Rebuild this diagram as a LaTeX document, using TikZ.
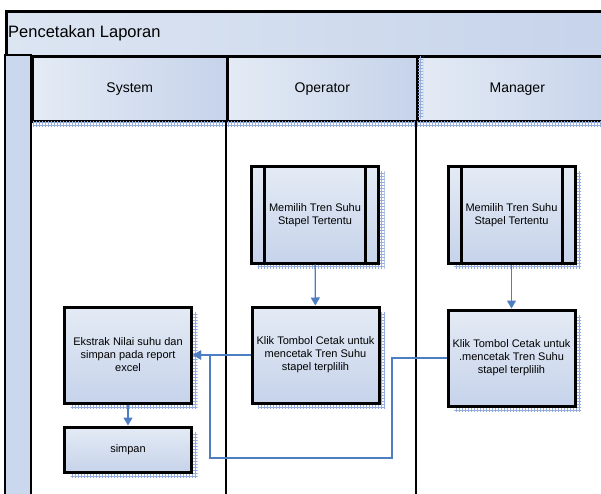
\documentclass[tikz,border=0pt]{standalone}
\usepackage{fontspec}
\setmainfont{Liberation Sans}
\usetikzlibrary{arrows.meta,patterns}

\definecolor{boxlight}{HTML}{E4EBF5}
\definecolor{boxdark}{HTML}{C6D3EA}
\definecolor{bandlight}{HTML}{DCE5F2}
\definecolor{banddark}{HTML}{C6D3EA}
\definecolor{stripblue}{HTML}{CAD7EC}
\definecolor{hatch}{HTML}{94ADDC}
\definecolor{flowblue}{HTML}{4E7EC2}

\tikzset{
  band/.style={draw, line width=2.6pt, left color=bandlight, right color=banddark},
  lanehead/.style={band, left color=boxlight, right color=boxdark},
  task/.style={draw, line width=3pt, minimum width=127pt, minimum height=96pt,
    align=center, font=\fontsize{11}{13}\selectfont,
    top color=boxlight, bottom color=boxdark,
    preaction={pattern=grid, pattern color=hatch, transform canvas={shift={(6pt,-5pt)}}}},
  subtask/.style={task, path picture={
    \draw[line width=3pt] ([xshift=13pt]path picture bounding box.north west) -- ([xshift=13pt]path picture bounding box.south west);
    \draw[line width=3pt] ([xshift=-13pt]path picture bounding box.north east) -- ([xshift=-13pt]path picture bounding box.south east);}},
  headtext/.style={font=\fontsize{14}{16}\selectfont, inner sep=0pt},
  flow/.style={draw=flowblue, line width=1.4pt, -{Triangle[width=9pt,length=8pt]}},
}

\begin{document}
\begin{tikzpicture}[x=1pt,y=-1pt]
\clip (0,0) rectangle (601,494);
\fill[white] (0,0) rectangle (601,494);

% pool title and left strip
\node[band, minimum width=610pt, minimum height=45pt, anchor=north west] (pool) at (5,10) {};
\node[font=\fontsize{16.5}{18}\selectfont, inner sep=0pt, anchor=west] (ttl) at (8,33) {Pencetakan Laporan};
\draw[line width=2.6pt, fill=stripblue] (5,55) rectangle (31,510);

% lane headers
\node[lanehead, minimum width=195pt, minimum height=65pt, anchor=north west] (hsys) at (31,55) {};
\node[lanehead, minimum width=190pt, minimum height=65pt, anchor=north west] (hop) at (226,55) {};
\node[lanehead, minimum width=200pt, minimum height=65pt, anchor=north west] (hmgr) at (416,55) {};
\fill[pattern=grid, pattern color=hatch] (33,122) rectangle (601,127);
\fill[pattern=grid, pattern color=hatch] (418,57) rectangle (423,119);
\node[headtext] (tsys) at (hsys.center) {System};
\node[headtext] (top) at (hop.center) {Operator};
\node[headtext] (tmgr) at (hmgr.center) {Manager};

% lane lines
\draw[line width=2.6pt] (226,120) -- (226,510);
\draw[line width=2.6pt] (416,120) -- (416,510);

% tasks
\node[subtask] (mop) at (315,215) {Memilih Tren Suhu\\Stapel Tertentu};
\node[subtask] (mmgr) at (511.5,215) {Memilih Tren Suhu\\Stapel Tertentu};
\node[task] (kop) at (315.5,355) {Klik Tombol Cetak untuk\\mencetak Tren Suhu\\stapel terplilih};
\node[task] (kmgr) at (511.5,358) {Klik Tombol Cetak untuk\\.mencetak Tren Suhu\\stapel terplilih};
\node[task] (ekstrak) at (128,355) {Ekstrak Nilai suhu dan\\simpan pada report\\excel};
\node[task, minimum height=45pt] (simpan) at (128,449.5) {simpan};

% flows
\coordinate (bendr) at (392,458);
\coordinate (bendl) at (210,458);
\draw[flow] (mop) -- (kop);
\draw[flow] (mmgr) -- (kmgr);
\draw[flow] (ekstrak) -- (simpan);
\draw[flow] (kop) -- (ekstrak);
\draw[flow] (kmgr.west) -| (bendr) -- (bendl) |- (ekstrak.east);

\end{tikzpicture}
\end{document}
